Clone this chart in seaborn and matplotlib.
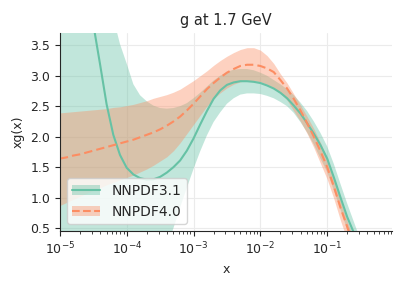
import numpy as np
import pandas as pd
import seaborn as sns
from matplotlib import pyplot as plt
from matplotlib.lines import Line2D
from matplotlib.patches import Patch

# log10(x) grid the curves were read at
log_x = [-5.0, -4.9, -4.8, -4.7, -4.6, -4.5, -4.4, -4.3, -4.2, -4.1,
         -4.0, -3.9, -3.8, -3.7, -3.6, -3.5, -3.4, -3.3, -3.2, -3.1,
         -3.0, -2.9, -2.8, -2.7, -2.6, -2.5, -2.4, -2.3, -2.2, -2.1,
         -2.0, -1.9, -1.8, -1.7, -1.6, -1.5, -1.4, -1.3, -1.2, -1.1,
         -1.0, -0.9, -0.8, -0.7, -0.6, -0.5, -0.4, -0.3]

# NNPDF3.1: central value and band edges
nnpdf31_cv = [9.5, 8.1, 6.8, 5.6, 4.55, 3.85, 3.2, 2.53, 2.03, 1.7,
              1.49, 1.38, 1.32, 1.295, 1.30, 1.34, 1.41, 1.50, 1.61, 1.77,
              1.97, 2.2, 2.42, 2.62, 2.76, 2.85, 2.89, 2.91, 2.91, 2.9,
              2.88, 2.84, 2.79, 2.72, 2.63, 2.51, 2.38, 2.22, 2.05, 1.86,
              1.64, 1.33, 1.0, 0.68, 0.42, 0.15, -0.15, -0.45]
nnpdf31_up = [12.0, 10.0, 8.5, 7.2, 6.1, 5.2, 4.6, 4.25, 3.95, 3.52,
              3.2, 2.86, 2.68, 2.58, 2.51, 2.47, 2.46, 2.47, 2.5, 2.55,
              2.63, 2.72, 2.82, 2.92, 3.0, 3.06, 3.1, 3.11, 3.11, 3.09,
              3.05, 3.0, 2.93, 2.86, 2.78, 2.68, 2.56, 2.42, 2.25, 2.06,
              1.84, 1.55, 1.22, 0.9, 0.6, 0.3, 0.0, -0.3]
nnpdf31_lo = [-2.7, -2.5, -2.3, -2.1, -1.9, -1.7, -1.5, -1.3, -1.1, -0.9,
              -0.7, -0.58, -0.45, -0.3, -0.15, -0.02, 0.18, 0.5, 0.84, 1.16,
              1.47, 1.76, 2.02, 2.24, 2.4, 2.54, 2.63, 2.69, 2.71, 2.71,
              2.70, 2.67, 2.63, 2.57, 2.5, 2.39, 2.24, 2.07, 1.87, 1.64,
              1.42, 1.12, 0.8, 0.47, 0.2, -0.1, -0.4, -0.7]

# NNPDF4.0: central value and band edges
nnpdf40_cv = [1.64, 1.66, 1.69, 1.71, 1.74, 1.77, 1.80, 1.83, 1.86, 1.89,
              1.92, 1.95, 1.99, 2.03, 2.07, 2.12, 2.18, 2.25, 2.33, 2.43,
              2.54, 2.66, 2.78, 2.88, 2.97, 3.05, 3.11, 3.16, 3.18, 3.18,
              3.16, 3.12, 3.06, 2.93, 2.79, 2.62, 2.43, 2.22, 2.0, 1.76,
              1.5, 1.18, 0.83, 0.52, 0.2, -0.12, -0.45, -0.8]
nnpdf40_up = [2.39, 2.40, 2.41, 2.42, 2.43, 2.44, 2.45, 2.46, 2.48, 2.49,
              2.51, 2.53, 2.56, 2.59, 2.63, 2.66, 2.69, 2.73, 2.78, 2.85,
              2.92, 3.0, 3.08, 3.17, 3.25, 3.32, 3.38, 3.43, 3.46, 3.46,
              3.42, 3.33, 3.2, 3.03, 2.88, 2.7, 2.52, 2.33, 2.13, 1.9,
              1.64, 1.32, 0.95, 0.62, 0.3, -0.02, -0.35, -0.7]
nnpdf40_lo = [0.87, 0.92, 0.97, 1.02, 1.07, 1.12, 1.16, 1.21, 1.25, 1.29,
              1.33, 1.37, 1.42, 1.47, 1.53, 1.6, 1.67, 1.77, 1.9, 2.05,
              2.2, 2.35, 2.5, 2.62, 2.72, 2.8, 2.86, 2.9, 2.92, 2.92,
              2.9, 2.86, 2.8, 2.71, 2.6, 2.42, 2.25, 2.05, 1.82, 1.56,
              1.3, 0.98, 0.62, 0.3, 0.0, -0.3, -0.6, -0.9]

x = 10 ** np.array(log_x)
df = pd.DataFrame({"x": np.concatenate([x, x]),
                   "xg": nnpdf31_cv + nnpdf40_cv,
                   "pdf": ["NNPDF3.1"] * len(x) + ["NNPDF4.0"] * len(x)})

sns.set_style("ticks")
colours = sns.color_palette("Set2", 2)

fig = plt.figure(figsize=(4.07, 2.85), dpi=100)
ax = fig.add_axes([0.147, 0.189, 0.816, 0.695])

ax.fill_between(x, nnpdf31_lo, nnpdf31_up, color=colours[0], alpha=0.4, lw=0)
ax.fill_between(x, nnpdf40_lo, nnpdf40_up, color=colours[1], alpha=0.4, lw=0)
sns.lineplot(data=df, x="x", y="xg", hue="pdf", style="pdf", palette=colours,
             dashes=[(None, None), (4, 2)], lw=1.5, ax=ax, legend=False)

ax.set_xscale("log")
ax.set_xlim(1e-5, 0.93)
ax.set_ylim(0.45, 3.7)
ax.set_yticks([0.5, 1.0, 1.5, 2.0, 2.5, 3.0, 3.5])
ax.grid(True, color="0.92", lw=0.8)
ax.set_axisbelow(True)
ax.set_xlabel("x", fontsize=9)
ax.set_ylabel("xg(x)", fontsize=9)
ax.set_title("g at 1.7 GeV", fontsize=10.5)
ax.tick_params(labelsize=9)
sns.despine(ax=ax)

handles = [
    (Patch(color=colours[0], alpha=0.4, lw=0), Line2D([], [], color=colours[0], lw=1.5)),
    (Patch(color=colours[1], alpha=0.4, lw=0), Line2D([], [], color=colours[1], lw=1.5, ls="--")),
]
ax.legend(handles, ["NNPDF3.1", "NNPDF4.0"], loc="lower left", fontsize=10,
          handlelength=2.0)

fig.savefig("out.png")
